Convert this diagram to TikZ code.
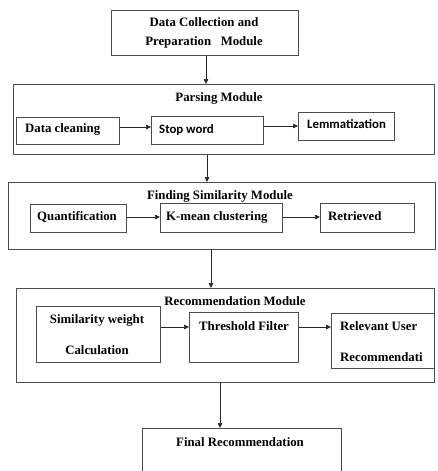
\documentclass[tikz,border=0pt]{standalone}
\usepackage{fontspec}
\setmainfont{Liberation Serif}
\newfontfamily\calib{Carlito}
\usetikzlibrary{arrows.meta}
\tikzset{
  box/.style={draw=black!70, line width=0.8pt, inner sep=0pt, anchor=north west},
  lbl/.style={font=\bfseries\fontsize{12.8}{15}\selectfont, inner sep=0pt, anchor=mid, yshift=-1.3pt},
  lblw/.style={lbl, anchor=mid west},
  slbl/.style={font=\calib\bfseries\fontsize{12.8}{15}\selectfont, inner sep=0pt, anchor=mid west, yshift=-1.3pt},
  arr/.style={-{Triangle[length=5pt,width=4.5pt]}, line width=0.7pt, draw=black!85}
}
\begin{document}
\begin{tikzpicture}[x=1pt,y=-1pt]
\clip (0,0) rectangle (437,471);
\fill[white] (0,0) rectangle (437,471);
% boxes
\node[box, minimum width=187pt, minimum height=45pt] (top) at (111,10) {};
\node[box, minimum width=421pt, minimum height=70pt] (parse) at (13,84) {};
\node[box, minimum width=103pt, minimum height=27pt] (dc) at (16,117) {};
\node[box, minimum width=112pt, minimum height=28pt] (sw) at (151,116) {};
\node[box, minimum width=96pt, minimum height=28pt] (lem) at (298,112) {};
\node[box, minimum width=427pt, minimum height=67pt] (find) at (8,182) {};
\node[box, minimum width=96pt, minimum height=28pt] (quant) at (30,204) {};
\node[box, minimum width=122pt, minimum height=29pt] (kmean) at (160,203) {};
\node[box, minimum width=94pt, minimum height=29pt] (retr) at (320,203) {};
\node[box, minimum width=418pt, minimum height=94pt] (rec) at (16,288) {};
\node[box, minimum width=124pt, minimum height=56pt] (sim) at (36,306) {};
\node[box, minimum width=109pt, minimum height=50pt] (thr) at (189,312) {};
\node[box, minimum width=103pt, minimum height=55pt] (rel) at (331,313) {};
\node[box, minimum width=199pt, minimum height=60pt] (final) at (142,428) {};
% labels
\node[lbl] (t1) at (204,23) {Data Collection and};
\node[lbl] (t2) at (204,42) {Preparation\ \ \ Module};
\node[lbl] (tp) at (219,98) {Parsing Module};
\node[lblw] (tdc) at (25,129) {Data cleaning};
\node[slbl] (tsw) at (159,130) {Stop word};
\node[slbl] (tlem) at (307,125) {Lemmatization};
\node[lbl] (tf) at (220,196) {Finding Similarity\ Module};
\node[lblw] (tq) at (37,217) {Quantification};
\node[lblw] (tk) at (166,217) {K-mean clustering};
\node[lblw] (tr) at (328,217) {Retrieved};
\node[lbl] (trec) at (235,302) {Recommendation Module};
\node[lbl] (ts1) at (97,320) {Similarity weight};
\node[lbl] (ts2) at (97,351) {Calculation};
\node[lblw] (tt) at (199,327) {Threshold Filter};
\node[lblw] (trel1) at (340,327) {Relevant User};
\node[lblw] (trel2) at (340,358) {Recommendati};
\node[lbl] (tfin) at (240,443) {Final Recommendation};
% connectors
\draw[arr] (top.south -| 206,0) -- (parse.north -| 206,0);
\draw[arr] (dc.east |- 0,127) -- (sw.west |- 0,127);
\draw[arr] (sw.east |- 0,126) -- (lem.west |- 0,126);
\draw[arr] (parse.south -| 207,0) -- (find.north -| 207,0);
\draw[arr] (quant.east |- 0,217) -- (kmean.west |- 0,217);
\draw[arr] (kmean.east |- 0,217) -- (retr.west |- 0,217);
\draw[arr] (find.south -| 211,0) -- (rec.north -| 211,0);
\draw[arr] (sim.east |- 0,327) -- (thr.west |- 0,327);
\draw[arr] (thr.east |- 0,327) -- (rel.west |- 0,327);
\draw[arr] (rec.south -| 220,0) -- (final.north -| 220,0);
\end{tikzpicture}
\end{document}
